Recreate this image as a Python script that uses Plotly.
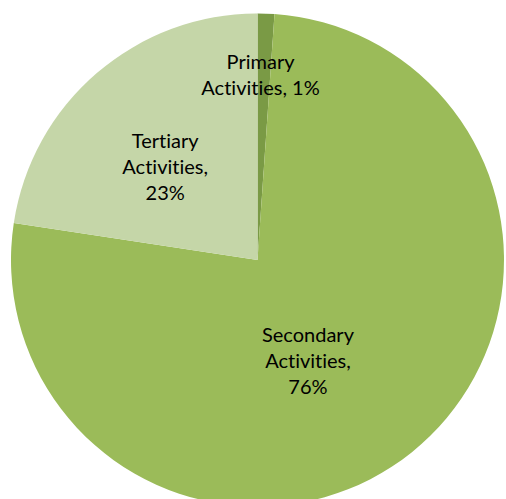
import plotly.graph_objects as go

categories = ["Primary Activities", "Secondary Activities", "Tertiary Activities"]
values = [1.1, 76.3, 22.6]
label_texts = ["Primary<br>Activities, 1%", "Secondary<br>Activities,<br>76%", "Tertiary<br>Activities,<br>23%"]
colors = ["#7A9A45", "#9BBB59", "#C5D6A8"]

W, H = 506, 520
cx, cy, r = 257.5, 260.0, 246.5

fig = go.Figure(go.Pie(
    labels=categories,
    values=values,
    sort=False,
    direction="clockwise",
    rotation=0,
    marker=dict(colors=colors, line=dict(width=0)),
    textinfo="none",
    hoverinfo="label+percent",
    domain=dict(x=[(cx - r) / W, (cx + r) / W], y=[1 - (cy + r) / H, 1 - (cy - r) / H]),
    showlegend=False,
))

label_pos = [(260, 74), (308, 360), (165, 166)]
for txt, (px, py) in zip(label_texts, label_pos):
    fig.add_annotation(x=px / W, y=1 - py / H, xref="paper", yref="paper", text=txt,
                       showarrow=False, font=dict(family="Lato", size=20, color="#000000"),
                       align="center", xanchor="center", yanchor="middle")

fig.update_layout(width=W, height=H, margin=dict(l=0, r=0, t=0, b=0),
                  paper_bgcolor="white", plot_bgcolor="white", autosize=False)

post = (
    "document.body.style.margin='0';"
    "document.body.style.overflow='hidden';"
    "document.documentElement.style.overflow='hidden';"
    "var s=document.createElement('style');"
    "s.textContent='svg text{font-variant-ligatures:none !important;font-feature-settings:\"liga\" 0 !important;}';"
    "document.head.appendChild(s);"
)
fig.write_html("out.html", config={"displayModeBar": False}, post_script=post)
